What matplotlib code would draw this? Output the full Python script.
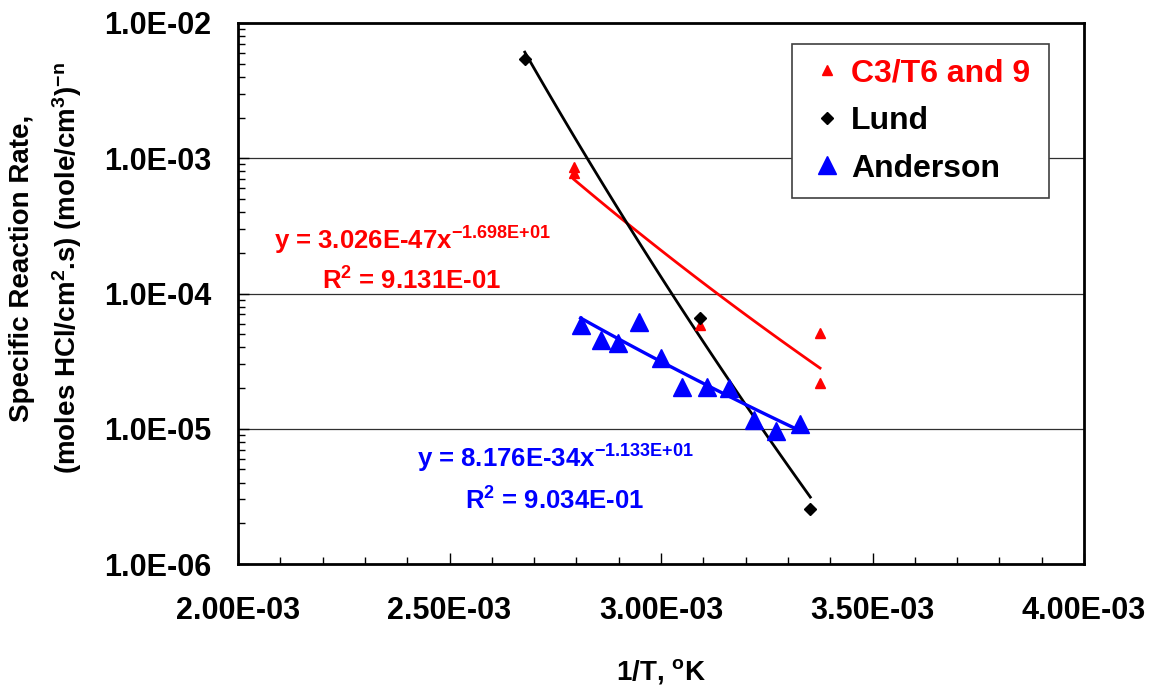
#!/usr/bin/env python3
"""
Specific reaction rate vs 1/T (log scale) with power-law trendlines
"""

import numpy as np
import matplotlib
matplotlib.use('Agg')
import matplotlib.pyplot as plt
from matplotlib.ticker import FuncFormatter, LogLocator, MultipleLocator, NullFormatter
from matplotlib.lines import Line2D

plt.rcParams['font.family'] = ['Liberation Sans', 'DejaVu Sans']
plt.rcParams['font.weight'] = 'bold'
plt.rcParams['mathtext.fontset'] = 'custom'
plt.rcParams['mathtext.rm'] = 'Liberation Sans:bold'
plt.rcParams['mathtext.bf'] = 'Liberation Sans:bold'
plt.rcParams['mathtext.it'] = 'Liberation Sans:bold'
plt.rcParams['mathtext.default'] = 'bf'

# C3/T6 and 9 data
c3_x = [2.794e-3, 2.794e-3, 3.092e-3, 3.376e-3, 3.376e-3]
c3_y = [8.6e-4, 7.8e-4, 5.85e-5, 5.08e-5, 2.19e-5]

# Lund data
lund_x = [2.678e-3, 3.092e-3, 3.353e-3]
lund_y = [5.42e-3, 6.62e-5, 2.54e-6]

# Anderson data
and_x = [2.810e-3, 2.857e-3, 2.898e-3, 2.949e-3, 3.001e-3, 3.050e-3,
         3.109e-3, 3.161e-3, 3.220e-3, 3.271e-3, 3.329e-3]
and_y = [5.85e-5, 4.53e-5, 4.33e-5, 6.12e-5, 3.32e-5, 2.02e-5,
         2.02e-5, 1.99e-5, 1.16e-5, 9.7e-6, 1.08e-5]

# power-law trendline coefficients shown on the chart (y = a * x^b)
c3_fit = (3.026e-47, -16.98)
and_fit = (8.176e-34, -11.33)

legend_labels = ['C3/T6 and 9', 'Lund', 'Anderson']


def power_curve(xs, a, b):
    xx = np.linspace(min(xs), max(xs), 100)
    return xx, a * xx ** b


def lund_curve(xs, ys):
    # Lund trendline has no printed equation: fit power law in log space
    b, loga = np.polyfit(np.log10(xs), np.log10(ys), 1)
    return power_curve(xs, 10 ** loga, b)


W, H = 1155, 685
fig = plt.figure(figsize=(W / 100, H / 100), dpi=100)
ax = fig.add_axes([238 / W, 1 - 564 / H, (1084 - 238) / W, 541 / H])

ax.set_yscale('log')
ax.set_xlim(2.0e-3, 4.0e-3)
ax.set_ylim(1e-6, 1e-2)

# grid on major decades only
for yv in [1e-5, 1e-4, 1e-3]:
    ax.axhline(yv, color='#303030', linewidth=0.9, zorder=1)

# trendlines
xx, yy = power_curve(c3_x, *c3_fit)
ax.plot(xx, yy, color='red', linewidth=2.0, zorder=2)
xx, yy = lund_curve(lund_x, lund_y)
ax.plot(xx, yy, color='black', linewidth=2.0, zorder=2)
xx, yy = power_curve(and_x, *and_fit)
ax.plot(xx, yy, color='blue', linewidth=2.4, zorder=2)

# data points
ax.plot(c3_x, c3_y, linestyle='none', marker='^', ms=7.5, color='red', zorder=3)
ax.plot(lund_x, lund_y, linestyle='none', marker='D', ms=6, color='black', zorder=4)
ax.plot(and_x, and_y, linestyle='none', marker='^', ms=13, color='blue', zorder=3)

# axes styling
for sp in ax.spines.values():
    sp.set_linewidth(2.0)
ax.xaxis.set_major_locator(MultipleLocator(0.5e-3))
ax.xaxis.set_minor_locator(MultipleLocator(0.1e-3))
ax.yaxis.set_major_locator(LogLocator(base=10, numticks=10))
ax.yaxis.set_minor_locator(LogLocator(base=10, subs=np.arange(2, 10), numticks=10))
ax.yaxis.set_minor_formatter(NullFormatter())
ax.xaxis.set_major_formatter(FuncFormatter(lambda v, p: f'{v:.2E}'))
ax.yaxis.set_major_formatter(FuncFormatter(lambda v, p: f'{v:.1E}'))
ax.tick_params(axis='both', which='both', direction='in', width=1.0)
ax.tick_params(axis='both', which='major', length=8, labelsize=22)
ax.tick_params(axis='both', which='minor', length=5)
ax.tick_params(axis='x', which='major', pad=23)
ax.tick_params(axis='y', which='major', pad=19)
for lab in ax.get_xticklabels() + ax.get_yticklabels():
    lab.set_fontweight('bold')

ax.set_xlabel(r'1/T, $^{\mathrm{o}}$K', fontsize=20, fontweight='bold', labelpad=22)

# y label, two lines
fig.text(22 / W, 1 - 268 / H, 'Specific Reaction Rate,', rotation=90,
         ha='center', va='center', fontsize=20, fontweight='bold')
fig.text(67 / W, 1 - 268 / H, r'(moles HCl/cm$^2$.s) (mole/cm$^3$)$^{-n}$', rotation=90,
         ha='center', va='center', fontsize=20, fontweight='bold')

# trendline equations
fig.text(412 / W, 1 - 250 / H, r'y = 3.026E-47x$^{-1.698E{+}01}$', color='red',
         ha='center', va='baseline', fontsize=18.5, fontweight='bold')
fig.text(412 / W, 1 - 290 / H, r'R$^2$ = 9.131E-01', color='red',
         ha='center', va='baseline', fontsize=18.5, fontweight='bold')
fig.text(555 / W, 1 - 468 / H, r'y = 8.176E-34x$^{-1.133E{+}01}$', color='blue',
         ha='center', va='baseline', fontsize=18.5, fontweight='bold')
fig.text(555 / W, 1 - 510 / H, r'R$^2$ = 9.034E-01', color='blue',
         ha='center', va='baseline', fontsize=18.5, fontweight='bold')

# legend
handles = [
    Line2D([], [], linestyle='none', marker='^', ms=7.5, color='red'),
    Line2D([], [], linestyle='none', marker='D', ms=6, color='black'),
    Line2D([], [], linestyle='none', marker='^', ms=13, color='blue'),
]
leg_x0 = (792 - 238) / 846
leg_w = (1049 - 792) / 846
leg_top = (564 - 44) / 541
leg = ax.legend(handles, legend_labels, loc='upper left', mode='expand',
                bbox_to_anchor=(leg_x0, leg_top - 0.3, leg_w, 0.3),
                borderaxespad=0, fancybox=False, framealpha=1, edgecolor='#404040',
                prop={'size': 23, 'weight': 'bold'}, handlelength=1.3,
                handletextpad=0.1, labelspacing=0.55, borderpad=0.45)
leg.get_frame().set_linewidth(1.2)
leg.get_texts()[0].set_color('red')
leg.set_zorder(5)

fig.savefig('out.png', dpi=100)
